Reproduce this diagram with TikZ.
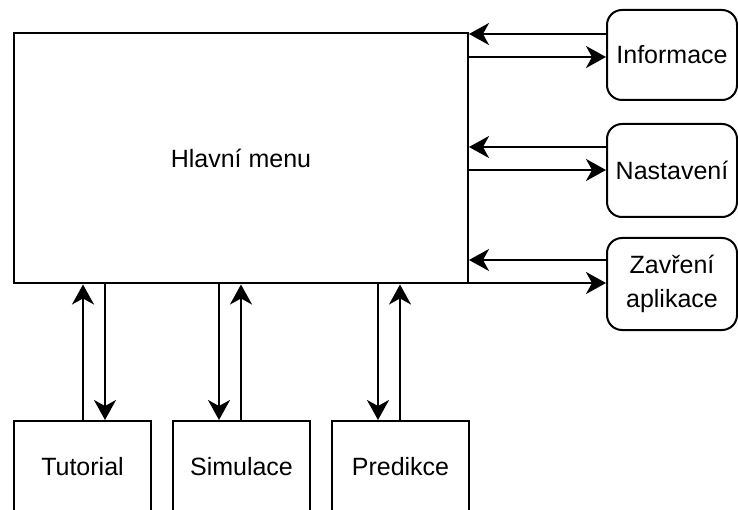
\documentclass[tikz,border=0pt]{standalone}
\usepackage{fontspec}
\setmainfont{Liberation Sans}
\usetikzlibrary{arrows.meta}
\begin{document}
\begin{tikzpicture}[x=1pt,y=-1pt,
  box/.style={draw,line width=2pt,inner sep=0pt,font=\fontsize{25}{30}\selectfont},
  roundbox/.style={box,rounded corners=15pt},
  arr/.style={line width=2pt,-{Stealth[length=20pt,width=22pt,inset=6pt]}}]
\useasboundingbox (0,0) rectangle (738,510);
\clip (0,0) rectangle (738,510);

% main window
\node[box,minimum width=454pt,minimum height=250pt] (main) at (241,158.5) {Hlavní menu};

% side dialogs
\node[roundbox,minimum width=130pt,minimum height=90pt] (info) at (672,55) {Informace};
\node[roundbox,minimum width=130pt,minimum height=93pt] (nast) at (672,170.5) {Nastavení};
\node[roundbox,minimum width=130pt,minimum height=92pt,align=center,
      font=\fontsize{25}{34}\selectfont] (zav) at (672,284) {Zavření\\aplikace};

% modes
\node[box,minimum width=137pt,minimum height=92pt] (tut) at (82.5,467) {Tutorial};
\node[box,minimum width=137pt,minimum height=92pt] (sim) at (241.5,467) {Simulace};
\node[box,minimum width=137pt,minimum height=92pt] (pred) at (400.5,467) {Predikce};

% links to side dialogs
\draw[arr] (info.west |- 0,34) -- (main.east |- 0,34);
\draw[arr] (main.east |- 0,57) -- (info.west |- 0,57);
\draw[arr] (nast.west |- 0,147) -- (main.east |- 0,147);
\draw[arr] (main.east |- 0,170) -- (nast.west |- 0,170);
\draw[arr] (zav.west |- 0,260) -- (main.east |- 0,260);
\draw[arr] (main.east |- 0,283) -- (zav.west |- 0,283);

% links to modes
\draw[arr] (tut.north -| 83,0) -- (main.south -| 83,0);
\draw[arr] (main.south -| 105,0) -- (tut.north -| 105,0);
\draw[arr] (main.south -| 219,0) -- (sim.north -| 219,0);
\draw[arr] (sim.north -| 241,0) -- (main.south -| 241,0);
\draw[arr] (main.south -| 378,0) -- (pred.north -| 378,0);
\draw[arr] (pred.north -| 400,0) -- (main.south -| 400,0);
\end{tikzpicture}
\end{document}
